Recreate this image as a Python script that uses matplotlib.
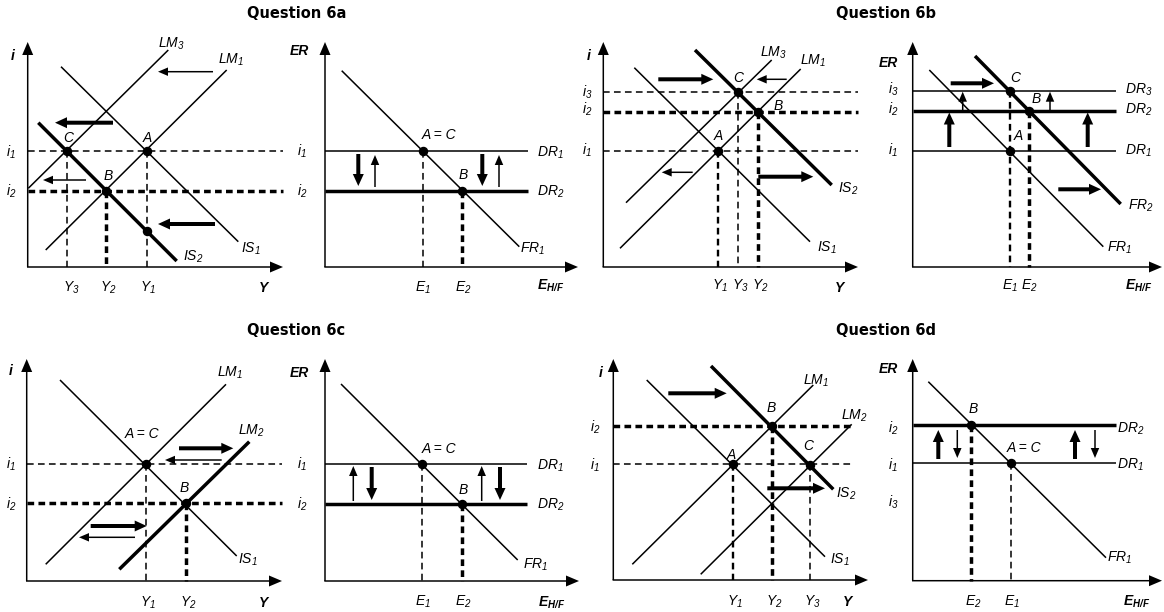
import matplotlib
matplotlib.use("Agg")
import matplotlib.pyplot as plt

plt.rcParams["font.family"] = ["Liberation Sans", "DejaVu Sans"]
plt.rcParams["mathtext.fontset"] = "custom"
plt.rcParams["mathtext.rm"] = "Liberation Sans:italic"
plt.rcParams["mathtext.it"] = "Liberation Sans:italic"
plt.rcParams["mathtext.bf"] = "Liberation Sans:bold:italic"
plt.rcParams["lines.scale_dashes"] = False

W, H = 1164, 612

# canvas units = pixels, y grows downwards
titles = [("Question 6a", 296.5, 13), ("Question 6b", 886.5, 13),
          ("Question 6c", 296.5, 330), ("Question 6d", 886.5, 330)]

# origin x, origin y, top of vertical axis, end of horizontal axis
frames = [(27.7, 267, 42, 283), (325, 267, 42, 578),
          (603.3, 267, 42, 858), (912.7, 267, 42, 1162),
          (26.7, 581, 359, 282), (325, 581, 359, 579),
          (613.3, 580, 359, 868), (912.7, 580.7, 359, 1162)]

# IS, LM and FR curves: x0, y0, x1, y1, weight
curves = [
    (45.7, 250, 226.7, 70, "thin"),        # 6a LM1
    (28.3, 188.3, 168.3, 50, "thin"),      # 6a LM3
    (61, 66.7, 238.3, 241.7, "thin"),      # 6a IS1
    (38.3, 122.7, 176.7, 261, "thick"),    # 6a IS2
    (341.7, 70.7, 519.3, 246.7, "thin"),   # 6a FR1
    (634.3, 67.7, 810, 241.7, "thin"),     # 6b IS1
    (695, 50, 831.7, 185, "thick"),        # 6b IS2
    (626, 202.7, 771.7, 60, "thin"),       # 6b LM3
    (620, 248.3, 800.7, 69, "thin"),       # 6b LM1
    (929.3, 70, 1103.3, 246.7, "thin"),    # 6b FR1
    (975, 56, 1120.7, 204, "thick"),       # 6b FR2
    (45.7, 564.3, 226, 384.3, "thin"),     # 6c LM1
    (60, 380, 236.7, 556, "thin"),         # 6c IS1
    (119.3, 569.3, 249.3, 441.7, "thick"), # 6c LM2
    (341, 384, 517.7, 560, "thin"),        # 6c FR1
    (646.7, 380, 825, 556.7, "thin"),      # 6d IS1
    (711, 366, 833.3, 489.3, "thick"),     # 6d IS2
    (632.3, 564.3, 813.3, 385, "thin"),    # 6d LM1
    (700.7, 574.3, 851.7, 424.3, "thin"),  # 6d LM2
    (928.3, 381.7, 1106, 557.7, "thin"),   # 6d FR1
]

# dashed interest levels in the IS-LM panels: y, x0, x1, weight
levels = [
    (151, 27.7, 283, "thin"), (190.7, 27.7, 283, "thick"),
    (91.7, 603.3, 858, "thin"), (111.7, 603.3, 858, "thick"), (150.7, 603.3, 858, "thin"),
    (464, 26.7, 282, "thin"), (503.3, 26.7, 282, "thick"),
    (426, 613.3, 853, "thick"), (464.3, 613.3, 853, "thin"),
]

# DR lines in the FX panels: y, x0, x1, weight
rates = [
    (151, 325, 528, "thin"), (190.7, 325, 528, "thick"),
    (90.7, 912.7, 1116, "thin"), (111, 912.7, 1116, "thick"), (151, 912.7, 1116, "thin"),
    (464.3, 325, 527, "thin"), (504, 325, 527, "thick"),
    (425, 912.7, 1116, "thick"), (463.3, 912.7, 1116, "thin"),
]

# vertical dashed drop lines: x, y top, y bottom, weight
guides = [
    (66.7, 151, 267, "thin"), (106, 190.7, 267, "thick"), (146.7, 151, 267, "thin"),
    (422.7, 151, 267, "thin"), (461.7, 190.7, 267, "thick"),
    (718.3, 150.7, 267, "mid"), (738.3, 91.7, 267, "thin"), (758.3, 111.7, 267, "thick"),
    (1010, 90.7, 267, "mid"), (1029.3, 111, 267, "thick"),
    (145.7, 464, 581, "thin"), (185.7, 503.3, 581, "thick"),
    (422.3, 464.3, 581, "thin"), (461.7, 504, 581, "thick"),
    (732.7, 464.3, 580, "mid"), (771.7, 426, 580, "thick"), (810, 464.3, 580, "thin"),
    (971, 425, 580.7, "thick"), (1010.7, 463.3, 580.7, "thin"),
]

dots = [(66.7, 151), (146.7, 151), (106, 190.7), (146.7, 231),
        (422.7, 151), (461.7, 190.7),
        (718.3, 150.7), (738.3, 91.7), (758.3, 111.7),
        (1010, 90.7), (1029.3, 111), (1010, 151),
        (145.7, 464), (185.7, 503.3),
        (422.3, 464.3), (461.7, 504),
        (732.7, 464.3), (771.7, 426), (810, 465),
        (971, 425), (1010.7, 463.3)]

# shift arrows: x0, y0, x1, y1, weight
shifts = [
    (213, 71.7, 158, 71.7, "thin"), (113, 122.7, 55, 122.7, "thick"),
    (86, 180, 43, 180, "thin"), (215, 224, 158, 224, "thick"),
    (358.3, 154, 358.3, 186, "thick"), (375, 187, 375, 155, "thin"),
    (482.3, 154, 482.3, 186, "thick"), (499, 187, 499, 155, "thin"),
    (658.3, 79.3, 713.3, 79.3, "thick"), (786.7, 79.3, 756.7, 79.3, "thin"),
    (692.7, 172.3, 661.7, 172.3, "thin"), (758.3, 176.7, 813.3, 176.7, "thick"),
    (950.7, 83.3, 994, 83.3, "thick"), (962.7, 111, 962.7, 91.7, "thin"),
    (1050, 111, 1050, 91.7, "thin"), (949.3, 147, 949.3, 112.5, "thick"),
    (1087.7, 147, 1087.7, 112.5, "thick"), (1058.3, 189.3, 1101, 189.3, "thick"),
    (179, 448.3, 233.3, 448.3, "thick"), (221.7, 460, 165, 460, "thin"),
    (90.7, 526, 146.7, 526, "thick"), (135, 537.3, 79, 537.3, "thin"),
    (353.3, 501, 353.3, 466, "thin"), (371.7, 467, 371.7, 500, "thick"),
    (481.7, 501, 481.7, 466, "thin"), (500, 467, 500, 500, "thick"),
    (668.3, 393.3, 726.7, 393.3, "thick"), (767.3, 488.3, 825, 488.3, "thick"),
    (938.3, 459, 938.3, 430, "thick"), (957.3, 430, 957.3, 458, "thin"),
    (1075, 459, 1075, 430, "thick"), (1095, 430, 1095, 458, "thin"),
]

# italic labels: text, left x, centre y
labels = [
    ("$LM_3$", 158, 43), ("$LM_1$", 218, 59), ("$IS_1$", 241, 248), ("$IS_2$", 183, 256),
    ("C", 63.3, 137), ("A", 142.7, 137), ("B", 103.3, 175),
    ("$i_1$", 6, 152), ("$i_2$", 6, 191),
    ("$Y_3$", 62.7, 287), ("$Y_2$", 100, 287), ("$Y_1$", 140, 287),
    ("A = C", 421.7, 134), ("B", 458.3, 174),
    ("$DR_1$", 536.7, 151.7), ("$DR_2$", 536.7, 191), ("$FR_1$", 520, 248),
    ("$i_1$", 296.7, 151), ("$i_2$", 296.7, 191),
    ("$E_1$", 415, 287), ("$E_2$", 455, 287),
    ("$LM_3$", 760, 52), ("$LM_1$", 800, 60),
    ("C", 733.3, 76.7), ("B", 773.3, 105), ("A", 713.3, 135),
    ("$IS_2$", 838.3, 188), ("$IS_1$", 816.7, 246.7),
    ("$i_3$", 581.7, 91.5), ("$i_2$", 581.7, 109), ("$i_1$", 581.7, 150),
    ("$Y_1$", 711.7, 285), ("$Y_3$", 731.7, 285), ("$Y_2$", 751.7, 285),
    ("$i_3$", 888.3, 89), ("$i_2$", 888.3, 108.5), ("$i_1$", 888.3, 150),
    ("C", 1010, 76.7), ("B", 1031.7, 98), ("A", 1013.3, 135),
    ("$DR_3$", 1125, 88.3), ("$DR_2$", 1125, 108.3), ("$DR_1$", 1125, 150),
    ("$FR_2$", 1128.3, 205), ("$FR_1$", 1106.7, 246.7),
    ("$E_1$", 1001.7, 285), ("$E_2$", 1021, 285),
    ("$LM_1$", 216.7, 371.7), ("$LM_2$", 238.3, 430),
    ("A = C", 125, 432.7), ("B", 180, 486.7), ("$IS_1$", 238.3, 558.3),
    ("$i_1$", 6, 464), ("$i_2$", 6, 503.3),
    ("$Y_1$", 140, 601.7), ("$Y_2$", 180, 601.7),
    ("A = C", 421.7, 448.3), ("B", 458.3, 489.3),
    ("$DR_1$", 536.7, 464.3), ("$DR_2$", 536.7, 504), ("$FR_1$", 523.3, 563.3),
    ("$i_1$", 296.7, 464), ("$i_2$", 296.7, 504),
    ("$E_1$", 415, 601), ("$E_2$", 455, 601),
    ("$LM_1$", 802.7, 379.3), ("$LM_2$", 841, 415),
    ("B", 766.7, 406.7), ("A", 726.7, 454.3), ("C", 803.3, 445),
    ("$IS_2$", 836, 492.7), ("$IS_1$", 830, 558.3),
    ("$i_2$", 590, 426.7), ("$i_1$", 590, 464.3),
    ("$Y_1$", 726.7, 601), ("$Y_2$", 766, 601), ("$Y_3$", 804.3, 601),
    ("B", 968.3, 408.3), ("A = C", 1006.7, 446.7),
    ("$DR_2$", 1117.3, 427.7), ("$DR_1$", 1117.3, 463.3), ("$FR_1$", 1107.3, 556.7),
    ("$i_2$", 888.3, 427.7), ("$i_1$", 888.3, 464.3), ("$i_3$", 888.3, 501.7),
    ("$E_2$", 965, 601), ("$E_1$", 1004.3, 601),
]

# bold axis names: text, left x, centre y
axis_names = [
    ("i", 11, 55), ("Y", 259.3, 287), ("ER", 290, 50), (r"$\mathbf{E}_{\mathbf{H/F}}$", 536.7, 285),
    ("i", 586.7, 55), ("Y", 835, 287), ("ER", 878.3, 62), (r"$\mathbf{E}_{\mathbf{H/F}}$", 1125, 285),
    ("i", 8.3, 370), ("Y", 259.3, 601.7), ("ER", 290, 371.7), (r"$\mathbf{E}_{\mathbf{H/F}}$", 538.3, 601.7),
    ("i", 598.3, 371.7), ("Y", 843.3, 601), ("ER", 878.3, 368.3), (r"$\mathbf{E}_{\mathbf{H/F}}$", 1123.3, 601),
]

LW = {"thin": 1.1, "mid": 1.7, "thick": 2.5}
DASH = (4.8, 3.1)
HEAD = {"thin": dict(width=1.5, head_width=8.5, head_length=10),
        "thick": dict(width=4.0, head_width=11, head_length=12)}

fig = plt.figure(figsize=(W / 100, H / 100), dpi=100)
ax = fig.add_axes([0, 0, 1, 1])
ax.set_xlim(0, W)
ax.set_ylim(H, 0)
ax.axis("off")

for x0, y0, ytop, xend in frames:
    ax.arrow(x0, y0, 0, ytop - y0, width=1.5, head_width=11, head_length=13,
             length_includes_head=True, fc="k", ec="none")
    ax.arrow(x0 - 0.7, y0, xend - x0 + 0.7, 0, width=1.5, head_width=11, head_length=13,
             length_includes_head=True, fc="k", ec="none")

for x0, y0, x1, y1, w in curves:
    ax.plot([x0, x1], [y0, y1], color="k", lw=LW[w], solid_capstyle="butt")

for y, x0, x1, w in levels:
    ax.plot([x0, x1], [y, y], color="k", lw=LW[w], dashes=DASH, dash_capstyle="butt")

for y, x0, x1, w in rates:
    ax.plot([x0, x1], [y, y], color="k", lw=LW[w], solid_capstyle="butt")

for x, y0, y1, w in guides:
    ax.plot([x, x], [y0, y1], color="k", lw=LW[w], dashes=DASH, dash_capstyle="butt")

for x0, y0, x1, y1, w in shifts:
    ax.arrow(x0, y0, x1 - x0, y1 - y0, length_includes_head=True,
             fc="k", ec="none", **HEAD[w])

dx, dy = zip(*dots)
ax.plot(dx, dy, "o", color="k", ms=5.8, zorder=5)

for txt, x, y in labels:
    ax.text(x, y + 5, txt, fontsize=10, fontstyle="italic", ha="left", va="baseline")

for txt, x, y in axis_names:
    ax.text(x, y + 5, txt, fontsize=10, fontstyle="italic", fontweight="bold",
            ha="left", va="baseline")

for txt, x, y in titles:
    ax.text(x, y + 5, txt, fontsize=10.5, fontweight="bold", family="DejaVu Sans",
            ha="center", va="baseline")

fig.savefig("out.png", dpi=100)
